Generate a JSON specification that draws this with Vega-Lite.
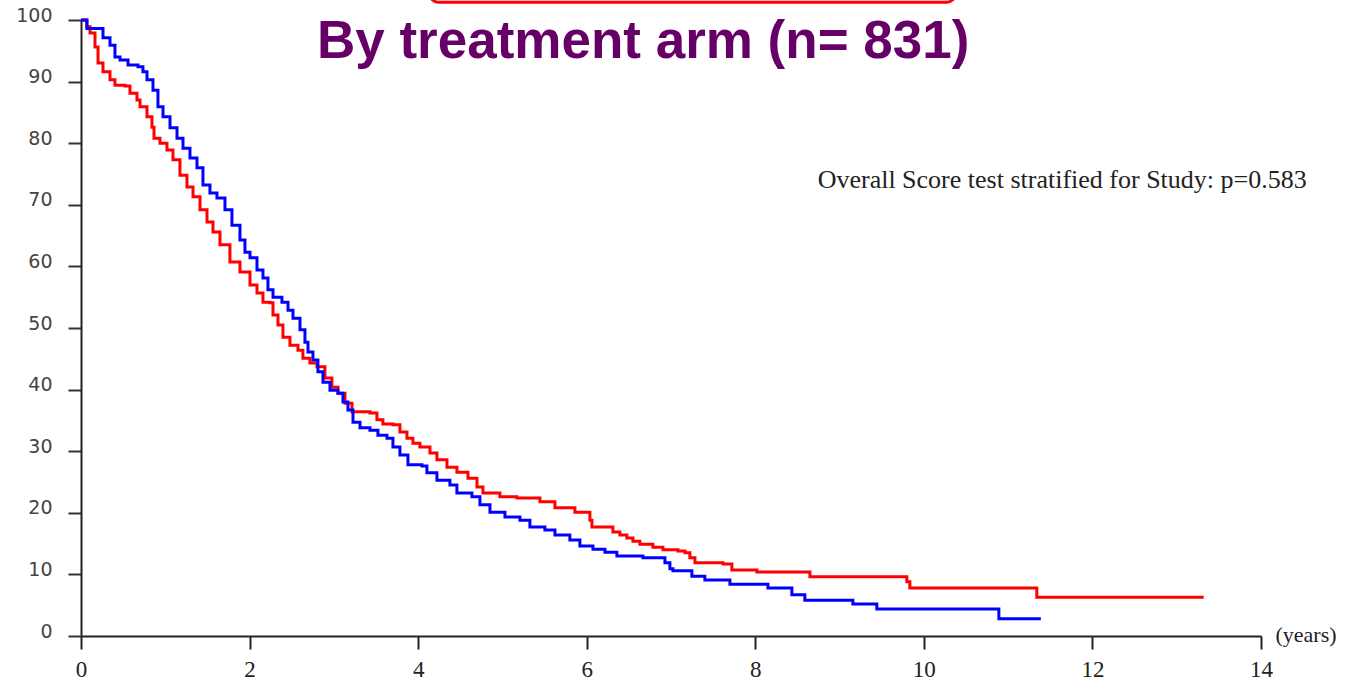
{
  "$schema": "https://vega.github.io/schema/vega-lite/v6.json",
  "width": 1180,
  "height": 616,
  "autosize": {"type": "none"},
  "padding": {"left": 81, "top": 20, "right": 91, "bottom": 47},
  "background": "white",
  "config": {
    "view": {"stroke": null},
    "axisX": {"labelFont": "Liberation Serif", "titleFont": "Liberation Serif"}
  },
  "datasets": {
    "km": [
      {"arm": "Arm A", "t": 0, "s": 100},
      {"arm": "Arm A", "t": 0.068, "s": 98.9},
      {"arm": "Arm A", "t": 0.107, "s": 97.9},
      {"arm": "Arm A", "t": 0.166, "s": 95.6},
      {"arm": "Arm A", "t": 0.202, "s": 93.0},
      {"arm": "Arm A", "t": 0.261, "s": 91.6},
      {"arm": "Arm A", "t": 0.344, "s": 90.3},
      {"arm": "Arm A", "t": 0.403, "s": 89.4},
      {"arm": "Arm A", "t": 0.522, "s": 89.3},
      {"arm": "Arm A", "t": 0.581, "s": 88.1},
      {"arm": "Arm A", "t": 0.664, "s": 87.0},
      {"arm": "Arm A", "t": 0.700, "s": 85.9},
      {"arm": "Arm A", "t": 0.783, "s": 84.3},
      {"arm": "Arm A", "t": 0.842, "s": 82.6},
      {"arm": "Arm A", "t": 0.866, "s": 80.8},
      {"arm": "Arm A", "t": 0.937, "s": 80.0},
      {"arm": "Arm A", "t": 1.020, "s": 78.9},
      {"arm": "Arm A", "t": 1.091, "s": 77.3},
      {"arm": "Arm A", "t": 1.174, "s": 74.8},
      {"arm": "Arm A", "t": 1.257, "s": 72.9},
      {"arm": "Arm A", "t": 1.329, "s": 71.3},
      {"arm": "Arm A", "t": 1.412, "s": 69.2},
      {"arm": "Arm A", "t": 1.495, "s": 67.2},
      {"arm": "Arm A", "t": 1.566, "s": 65.6},
      {"arm": "Arm A", "t": 1.649, "s": 63.5},
      {"arm": "Arm A", "t": 1.767, "s": 60.7},
      {"arm": "Arm A", "t": 1.886, "s": 59.1},
      {"arm": "Arm A", "t": 2.005, "s": 57.0},
      {"arm": "Arm A", "t": 2.088, "s": 55.7},
      {"arm": "Arm A", "t": 2.159, "s": 54.2},
      {"arm": "Arm A", "t": 2.242, "s": 54.1},
      {"arm": "Arm A", "t": 2.278, "s": 52.1},
      {"arm": "Arm A", "t": 2.337, "s": 50.5},
      {"arm": "Arm A", "t": 2.396, "s": 48.5},
      {"arm": "Arm A", "t": 2.479, "s": 47.2},
      {"arm": "Arm A", "t": 2.574, "s": 46.4},
      {"arm": "Arm A", "t": 2.633, "s": 45.1},
      {"arm": "Arm A", "t": 2.716, "s": 44.3},
      {"arm": "Arm A", "t": 2.800, "s": 43.7},
      {"arm": "Arm A", "t": 2.894, "s": 41.9},
      {"arm": "Arm A", "t": 2.977, "s": 40.4},
      {"arm": "Arm A", "t": 3.049, "s": 39.4},
      {"arm": "Arm A", "t": 3.132, "s": 37.8},
      {"arm": "Arm A", "t": 3.215, "s": 36.4},
      {"arm": "Arm A", "t": 3.428, "s": 36.2},
      {"arm": "Arm A", "t": 3.511, "s": 35.1},
      {"arm": "Arm A", "t": 3.582, "s": 34.4},
      {"arm": "Arm A", "t": 3.701, "s": 34.3},
      {"arm": "Arm A", "t": 3.784, "s": 33.1},
      {"arm": "Arm A", "t": 3.867, "s": 32.1},
      {"arm": "Arm A", "t": 3.938, "s": 31.3},
      {"arm": "Arm A", "t": 4.021, "s": 30.7},
      {"arm": "Arm A", "t": 4.140, "s": 29.7},
      {"arm": "Arm A", "t": 4.223, "s": 28.6},
      {"arm": "Arm A", "t": 4.342, "s": 27.4},
      {"arm": "Arm A", "t": 4.460, "s": 26.6},
      {"arm": "Arm A", "t": 4.591, "s": 25.6},
      {"arm": "Arm A", "t": 4.698, "s": 24.2},
      {"arm": "Arm A", "t": 4.769, "s": 23.2},
      {"arm": "Arm A", "t": 4.970, "s": 22.6},
      {"arm": "Arm A", "t": 5.172, "s": 22.4},
      {"arm": "Arm A", "t": 5.445, "s": 21.8},
      {"arm": "Arm A", "t": 5.623, "s": 20.8},
      {"arm": "Arm A", "t": 5.860, "s": 20.1},
      {"arm": "Arm A", "t": 6.038, "s": 18.8},
      {"arm": "Arm A", "t": 6.062, "s": 17.7},
      {"arm": "Arm A", "t": 6.311, "s": 16.9},
      {"arm": "Arm A", "t": 6.394, "s": 16.4},
      {"arm": "Arm A", "t": 6.477, "s": 15.9},
      {"arm": "Arm A", "t": 6.548, "s": 15.4},
      {"arm": "Arm A", "t": 6.631, "s": 14.9},
      {"arm": "Arm A", "t": 6.785, "s": 14.4},
      {"arm": "Arm A", "t": 6.904, "s": 14.0},
      {"arm": "Arm A", "t": 7.082, "s": 13.8},
      {"arm": "Arm A", "t": 7.165, "s": 13.5},
      {"arm": "Arm A", "t": 7.224, "s": 12.7},
      {"arm": "Arm A", "t": 7.284, "s": 11.9},
      {"arm": "Arm A", "t": 7.616, "s": 11.7},
      {"arm": "Arm A", "t": 7.722, "s": 10.7},
      {"arm": "Arm A", "t": 8.019, "s": 10.4},
      {"arm": "Arm A", "t": 8.648, "s": 9.6},
      {"arm": "Arm A", "t": 9.798, "s": 8.8},
      {"arm": "Arm A", "t": 9.834, "s": 7.8},
      {"arm": "Arm A", "t": 11.340, "s": 6.3},
      {"arm": "Arm A", "t": 13.320, "s": 6.3},
      {"arm": "Arm B", "t": 0, "s": 100},
      {"arm": "Arm B", "t": 0.071, "s": 98.6},
      {"arm": "Arm B", "t": 0.261, "s": 97.1},
      {"arm": "Arm B", "t": 0.344, "s": 95.9},
      {"arm": "Arm B", "t": 0.403, "s": 94.0},
      {"arm": "Arm B", "t": 0.463, "s": 93.5},
      {"arm": "Arm B", "t": 0.558, "s": 92.7},
      {"arm": "Arm B", "t": 0.676, "s": 92.4},
      {"arm": "Arm B", "t": 0.735, "s": 91.6},
      {"arm": "Arm B", "t": 0.783, "s": 90.3},
      {"arm": "Arm B", "t": 0.854, "s": 88.6},
      {"arm": "Arm B", "t": 0.913, "s": 85.9},
      {"arm": "Arm B", "t": 0.973, "s": 84.3},
      {"arm": "Arm B", "t": 1.056, "s": 82.5},
      {"arm": "Arm B", "t": 1.139, "s": 80.8},
      {"arm": "Arm B", "t": 1.210, "s": 79.2},
      {"arm": "Arm B", "t": 1.293, "s": 77.6},
      {"arm": "Arm B", "t": 1.376, "s": 76.0},
      {"arm": "Arm B", "t": 1.447, "s": 73.2},
      {"arm": "Arm B", "t": 1.530, "s": 71.9},
      {"arm": "Arm B", "t": 1.613, "s": 71.1},
      {"arm": "Arm B", "t": 1.708, "s": 69.2},
      {"arm": "Arm B", "t": 1.791, "s": 66.7},
      {"arm": "Arm B", "t": 1.886, "s": 64.3},
      {"arm": "Arm B", "t": 1.945, "s": 62.3},
      {"arm": "Arm B", "t": 2.005, "s": 61.4},
      {"arm": "Arm B", "t": 2.088, "s": 59.4},
      {"arm": "Arm B", "t": 2.159, "s": 58.1},
      {"arm": "Arm B", "t": 2.218, "s": 56.2},
      {"arm": "Arm B", "t": 2.278, "s": 55.0},
      {"arm": "Arm B", "t": 2.384, "s": 54.2},
      {"arm": "Arm B", "t": 2.456, "s": 52.9},
      {"arm": "Arm B", "t": 2.515, "s": 51.6},
      {"arm": "Arm B", "t": 2.598, "s": 49.7},
      {"arm": "Arm B", "t": 2.657, "s": 47.7},
      {"arm": "Arm B", "t": 2.693, "s": 46.1},
      {"arm": "Arm B", "t": 2.752, "s": 44.8},
      {"arm": "Arm B", "t": 2.811, "s": 42.9},
      {"arm": "Arm B", "t": 2.871, "s": 41.2},
      {"arm": "Arm B", "t": 2.954, "s": 39.9},
      {"arm": "Arm B", "t": 3.049, "s": 39.4},
      {"arm": "Arm B", "t": 3.108, "s": 38.0},
      {"arm": "Arm B", "t": 3.167, "s": 36.7},
      {"arm": "Arm B", "t": 3.227, "s": 34.7},
      {"arm": "Arm B", "t": 3.310, "s": 33.8},
      {"arm": "Arm B", "t": 3.428, "s": 33.4},
      {"arm": "Arm B", "t": 3.523, "s": 32.6},
      {"arm": "Arm B", "t": 3.630, "s": 32.1},
      {"arm": "Arm B", "t": 3.701, "s": 30.7},
      {"arm": "Arm B", "t": 3.784, "s": 29.4},
      {"arm": "Arm B", "t": 3.879, "s": 27.8},
      {"arm": "Arm B", "t": 4.045, "s": 27.6},
      {"arm": "Arm B", "t": 4.104, "s": 26.5},
      {"arm": "Arm B", "t": 4.223, "s": 25.3},
      {"arm": "Arm B", "t": 4.377, "s": 24.5},
      {"arm": "Arm B", "t": 4.460, "s": 23.2},
      {"arm": "Arm B", "t": 4.638, "s": 22.6},
      {"arm": "Arm B", "t": 4.733, "s": 21.3},
      {"arm": "Arm B", "t": 4.852, "s": 20.1},
      {"arm": "Arm B", "t": 5.030, "s": 19.3},
      {"arm": "Arm B", "t": 5.208, "s": 18.8},
      {"arm": "Arm B", "t": 5.326, "s": 17.7},
      {"arm": "Arm B", "t": 5.504, "s": 17.2},
      {"arm": "Arm B", "t": 5.623, "s": 16.4},
      {"arm": "Arm B", "t": 5.800, "s": 15.6},
      {"arm": "Arm B", "t": 5.919, "s": 14.6},
      {"arm": "Arm B", "t": 6.074, "s": 14.1},
      {"arm": "Arm B", "t": 6.216, "s": 13.6},
      {"arm": "Arm B", "t": 6.358, "s": 13.0},
      {"arm": "Arm B", "t": 6.667, "s": 12.7},
      {"arm": "Arm B", "t": 6.928, "s": 11.9},
      {"arm": "Arm B", "t": 6.987, "s": 10.9},
      {"arm": "Arm B", "t": 7.023, "s": 10.6},
      {"arm": "Arm B", "t": 7.248, "s": 9.7},
      {"arm": "Arm B", "t": 7.402, "s": 9.1},
      {"arm": "Arm B", "t": 7.699, "s": 8.4},
      {"arm": "Arm B", "t": 8.150, "s": 7.8},
      {"arm": "Arm B", "t": 8.434, "s": 6.7},
      {"arm": "Arm B", "t": 8.588, "s": 5.8},
      {"arm": "Arm B", "t": 9.158, "s": 5.2},
      {"arm": "Arm B", "t": 9.442, "s": 4.4},
      {"arm": "Arm B", "t": 10.890, "s": 2.8},
      {"arm": "Arm B", "t": 11.388, "s": 2.8}
    ]
  },
  "layer": [
    {
      "data": {"name": "km"},
      "mark": {"type": "line", "interpolate": "step-after", "strokeWidth": 3},
      "encoding": {
        "x": {
          "field": "t", "type": "quantitative",
          "scale": {"domain": [0, 14], "nice": false, "zero": false},
          "axis": {
            "values": [0, 2, 4, 6, 8, 10, 12, 14],
            "format": "d",
            "grid": false,
            "labelFlush": false,
            "tickSize": 13, "tickWidth": 2, "tickColor": "#222",
            "domainColor": "#222", "domainWidth": 2,
            "labelFont": "Liberation Serif", "labelFontSize": 23, "labelColor": "#222",
            "labelPadding": 9,
            "title": "(years)",
            "titleX": 1194, "titleY": -2,
            "titleAlign": "left", "titleBaseline": "middle", "titleAngle": 0,
            "titleFont": "Liberation Serif", "titleFontSize": 22,
            "titleFontWeight": "normal", "titleColor": "#222"
          }
        },
        "y": {
          "field": "s", "type": "quantitative",
          "scale": {"domain": [0, 100], "nice": false},
          "axis": {
            "values": [0, 10, 20, 30, 40, 50, 60, 70, 80, 90, 100],
            "format": "d",
            "grid": false,
            "labelFlush": false,
            "tickSize": 13, "tickWidth": 2, "tickColor": "#333",
            "domainColor": "#222", "domainWidth": 2,
            "labelFont": "DejaVu Sans", "labelFontSize": 19, "labelColor": "#444",
            "labelPadding": 16, "labelOffset": -5,
            "title": null
          }
        },
        "color": {
          "field": "arm", "type": "nominal",
          "scale": {"domain": ["Arm A", "Arm B"], "range": ["#ff0000", "#0000ff"]},
          "legend": null
        }
      }
    },
    {
      "data": {"values": [{}]},
      "mark": {"type": "rect", "fill": null, "filled": false, "stroke": "#ff0000", "strokeWidth": 3, "cornerRadius": 8},
      "encoding": {
        "x": {"datum": 4.14, "type": "quantitative"},
        "x2": {"datum": 10.37},
        "y": {"datum": 115, "type": "quantitative"},
        "y2": {"datum": 102.9}
      }
    },
    {
      "data": {"values": [{}]},
      "mark": {"type": "text", "text": "By treatment arm (n= 831)", "font": "Liberation Sans", "fontSize": 53, "fontWeight": "bold", "color": "#660066", "align": "center", "baseline": "alphabetic"},
      "encoding": {
        "x": {"datum": 6.67, "type": "quantitative"},
        "y": {"datum": 93.8, "type": "quantitative"}
      }
    },
    {
      "data": {"values": [{}]},
      "mark": {"type": "text", "text": "Overall Score test stratified for Study: p=0.583", "font": "Liberation Serif", "fontSize": 26, "color": "#222", "align": "left", "baseline": "middle"},
      "encoding": {
        "x": {"datum": 8.74, "type": "quantitative"},
        "y": {"datum": 74.0, "type": "quantitative"}
      }
    }
  ]
}
